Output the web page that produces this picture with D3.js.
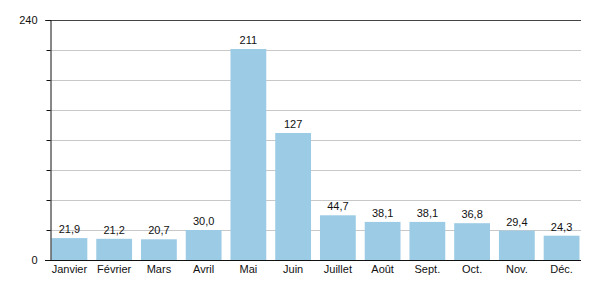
<!DOCTYPE html>
<html>
<head>
<meta charset="utf-8">
<script src="https://cdn.jsdelivr.net/npm/d3@7"></script>
<style>
  body { margin: 0; background: #fff; }
  text { font-family: "Liberation Sans", Arial, sans-serif; fill: #111; }
</style>
</head>
<body>
<div class="chart"></div>
<script>
// data
const months = ["Janvier", "Février", "Mars", "Avril", "Mai", "Juin", "Juillet", "Août", "Sept.", "Oct.", "Nov.", "Déc."];
const values = [21.9, 21.2, 20.7, 30.0, 211, 127, 44.7, 38.1, 38.1, 36.8, 29.4, 24.3];
const labels = ["21,9", "21,2", "20,7", "30,0", "211", "127", "44,7", "38,1", "38,1", "36,8", "29,4", "24,3"];
const yTickLabels = [0, 240];

var width = 600;
var height = 300;
var margin = { top: 20, right: 19, bottom: 40, left: 50 };

var svg = d3.select(".chart")
    .append("svg")
    .attr("width", width)
    .attr("height", height);

var x = d3.scaleBand()
    .domain(months)
    .range([margin.left, width - margin.right])
    .paddingInner(0.2)
    .paddingOuter(0.034);

var y = d3.scaleLinear()
    .domain([0, 240])
    .range([height - margin.bottom, margin.top]);

// gridlines every 30
const gridTicks = d3.range(30, 240, 30);
svg.append("g")
    .selectAll("line")
    .data(gridTicks)
    .join("line")
    .attr("x1", margin.left)
    .attr("x2", width - margin.right)
    .attr("y1", d => y(d) + 0.5)
    .attr("y2", d => y(d) + 0.5)
    .style("stroke", "#c8c8c8")
    .style("stroke-width", 1);

// top line
svg.append("line")
    .attr("x1", margin.left - 5)
    .attr("x2", width - margin.right)
    .attr("y1", y(240) + 0.5)
    .attr("y2", y(240) + 0.5)
    .style("stroke", "#444")
    .style("stroke-width", 1);

// bars
svg.append("g")
    .selectAll("rect")
    .data(values)
    .join("rect")
    .attr("x", (d, i) => x(months[i]))
    .attr("width", x.bandwidth())
    .attr("y", d => y(d))
    .attr("height", d => y(0) - y(d))
    .style("fill", "#9ccbe5");

// value labels
svg.append("g")
    .selectAll("text")
    .data(values)
    .join("text")
    .attr("x", (d, i) => x(months[i]) + x.bandwidth() / 2)
    .attr("y", d => y(d) - 5)
    .attr("text-anchor", "middle")
    .style("font-size", "11px")
    .text((d, i) => labels[i]);

// y axis
var yAxis = d3.axisLeft(y)
    .tickValues(d3.range(0, 241, 30))
    .tickSize(4)
    .tickPadding(9)
    .tickFormat(d => yTickLabels.includes(d) ? d : "");

svg.append("g")
    .attr("transform", `translate(${margin.left + 0.5},0)`)
    .call(yAxis)
    .call(g => g.select(".domain").attr("stroke", "#111"))
    .call(g => g.selectAll(".tick line").attr("stroke", "#111"))
    .call(g => g.selectAll("text").style("font-size", "11px").style("font-family", "Liberation Sans, Arial, sans-serif"));

// x axis
var xAxis = d3.axisBottom(x)
    .tickSize(0)
    .tickPadding(5);

svg.append("g")
    .attr("transform", `translate(0,${y(0) + 0.5})`)
    .call(xAxis)
    .call(g => g.select(".domain").attr("stroke", "#111").attr("d", `M${margin.left - 5},0H${width - margin.right}`))
    .call(g => g.selectAll("text").style("font-size", "11px").style("font-family", "Liberation Sans, Arial, sans-serif"));
</script>
</body>
</html>
